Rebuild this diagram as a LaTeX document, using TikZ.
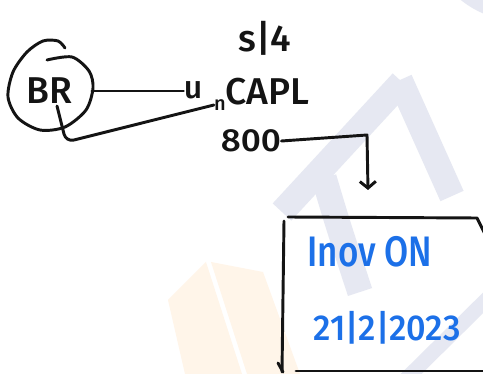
\documentclass[tikz,border=0pt]{standalone}
\usepackage{fontspec}
\setmainfont{Fira Sans Medium}
\usetikzlibrary{arrows.meta}
\definecolor{ink}{RGB}{20,20,20}
\definecolor{pen}{RGB}{28,112,232}
\definecolor{wmgrey}{RGB}{230,232,242}
\definecolor{wmorange}{RGB}{255,245,233}

\begin{document}
\begin{tikzpicture}[x=0.75pt,y=-0.75pt,
  stroke/.style={draw=ink,line width=2.2pt,line cap=round,line join=round},
  word/.style={inner sep=0pt,text=ink},
  note/.style={inner sep=0pt,text=pen},
  wm/.style={draw=wmgrey,line width=19pt,line cap=butt}]
\useasboundingbox (0,0) rectangle (483,374);
\fill[white] (0,0) rectangle (483,374);

% faint background mark
\fill[wmorange] (168,300) -- (206,262) -- (242,374) -- (185,374) -- cycle;
\fill[wmorange] (211,262) -- (263,272) -- (300,374) -- (247,374) -- cycle;
\draw[wm] (282,212) -- (402,82);
\draw[wm] (400,80) -- (452,196);
\draw[wm] (324,178) .. controls (338,225) .. (360,292);
\draw[wm] (500,6) arc[start angle=105,end angle=215,radius=85];
\draw[wm,line width=11pt] (405,380) -- (490,296);

% BR with its hand-drawn ring
\node[word,circle,minimum size=64pt,font=\fontsize{28}{28}\selectfont] (br) at (49,91) {BR};
\draw[stroke] plot[smooth] coordinates {(47,60) (72,57) (89,71) (93,88) (86,110) (65,127) (40,130) (18,118) (8,97) (13,72) (27,52) (43,41) (58,41) (65,48)};
\coordinate (rfoot) at (57,106);

% labels around CAPL
\node[word,font=\fontsize{28}{28}\selectfont] (s4) at (265,38) {s|4};
\node[word,font=\fontsize{24}{24}\selectfont] (u) at (193,90) {u};
\node[word,font=\fontsize{15}{15}\selectfont] (n) at (220,105) {n};
\node[word,font=\fontsize{28}{28}\selectfont] (capl) at (267,92) {CAPL};
\node[word,font=\fontsize{24}{24}\selectfont,xscale=1.1] (eight) at (251,141) {800};

% the note box
\node[note,font=\fontsize{32}{32}\selectfont,xscale=0.82] (l1) at (370,252) {Inov ON};
\node[note,font=\fontsize{27}{27}\selectfont,xscale=0.95] (l2) at (387,328) {21|2|2023};
\draw[stroke] (288,217) -- (477,218) -- (487,238);
\draw[stroke] (284,221) -- (282,372);
\draw[stroke] (278,363) -- (283,372);
\draw[stroke] (296,371) -- (490,371);
\coordinate (tip) at (368,190);

% connectors
\draw[stroke] (br.east) -- (br.east -| u.west);
\draw[stroke,rounded corners=6pt] (rfoot) -- (66,142) -- (n.west);
\draw[stroke,-{Straight Barb[length=5pt,width=12pt]}] (eight.east) -- (367,135) -- (tip);
\end{tikzpicture}
\end{document}
